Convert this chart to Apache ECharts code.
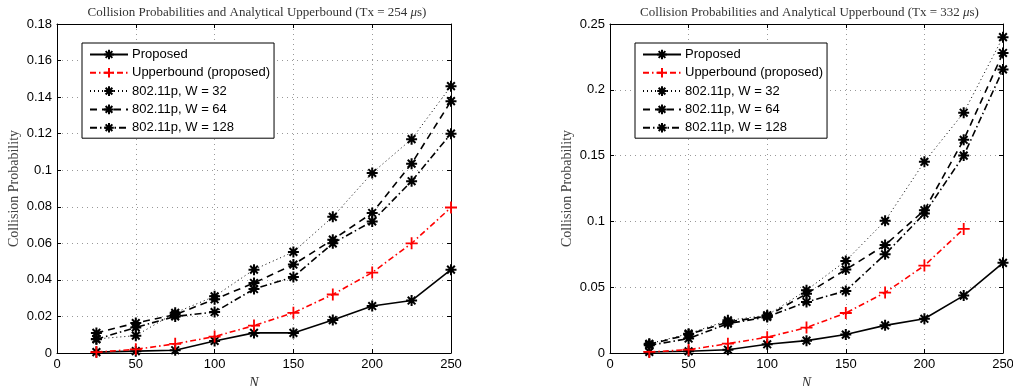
<!DOCTYPE html>
<html>
<head>
<meta charset="utf-8">
<script src="https://cdn.jsdelivr.net/npm/echarts@6/dist/echarts.min.js"></script>
<style>
  html, body { margin: 0; padding: 0; background: #fff; }
  #chart { width: 1013px; height: 386px; }
</style>
</head>
<body>
<div id="chart"></div>
<script>
// N 值
const nValues = [25, 50, 75, 100, 125, 150, 175, 200, 225, 250];

// 左图 Tx = 254 us
const proposedA = [0.0005, 0.001, 0.0015, 0.0066, 0.011, 0.011, 0.018, 0.0257, 0.0287, 0.0456];
const upperA = [0.0005, 0.002, 0.005, 0.009, 0.015, 0.022, 0.032, 0.044, 0.060, 0.0796];
const w32A = [0.0077, 0.0095, 0.022, 0.031, 0.0456, 0.0553, 0.0745, 0.0985, 0.117, 0.146];
const w64A = [0.011, 0.0164, 0.021, 0.0294, 0.0383, 0.0484, 0.062, 0.0766, 0.1036, 0.1378];
const w128A = [0.0075, 0.014, 0.020, 0.0224, 0.035, 0.0416, 0.060, 0.072, 0.094, 0.120];

// 右图 Tx = 332 us
const proposedB = [0.0008, 0.0013, 0.0025, 0.0066, 0.0094, 0.014, 0.021, 0.026, 0.0436, 0.0685];
const upperB = [0.0008, 0.0025, 0.0071, 0.012, 0.0193, 0.0304, 0.0459, 0.0664, 0.0943];
const w32B = [0.007, 0.0147, 0.0248, 0.0287, 0.0477, 0.070, 0.1004, 0.1453, 0.1826, 0.240];
const w64B = [0.0066, 0.014, 0.0236, 0.028, 0.045, 0.0634, 0.082, 0.1085, 0.162, 0.228];
const w128B = [0.0058, 0.011, 0.0223, 0.0274, 0.0388, 0.0472, 0.075, 0.106, 0.150, 0.2155];

const names = ['Proposed', 'Upperbound (proposed)', '802.11p, W = 32', '802.11p, W = 64', '802.11p, W = 128'];
const txValues = [254, 332];

// 星号 / 加号 标记
const starPath = 'path://M0,-10L0,10M-10,0L10,0M-7,-7L7,7M-7,7L7,-7';
const plusPath = 'path://M0,-10L0,10M-10,0L10,0';

const toPairs = (vals) => vals.map((v, i) => [nValues[i], v]);

const styles = [
  { color: '#000', type: 'solid', width: 1.6, symbol: starPath },
  { color: '#ff0000', type: [6, 3, 1.5, 3], width: 1.6, symbol: plusPath },
  { color: '#000', type: [1, 3], width: 1, symbol: starPath },
  { color: '#000', type: [7, 5], width: 1.6, symbol: starPath },
  { color: '#000', type: [7, 3, 1.5, 3], width: 1.6, symbol: starPath }
];

const makeSeries = (dataSets, idx) => dataSets.map((vals, k) => ({
  name: names[k],
  type: 'line',
  xAxisIndex: idx,
  yAxisIndex: idx,
  data: toPairs(vals),
  clip: false,
  symbol: styles[k].symbol,
  symbolSize: k === 1 ? 12 : 11,
  itemStyle: { color: styles[k].color, borderColor: styles[k].color, borderWidth: k === 1 ? 1.8 : 2 },
  lineStyle: { color: styles[k].color, type: styles[k].type, width: styles[k].width },
  emphasis: { disabled: true },
  animation: false
}));

const grids = [
  { left: 57, top: 24, width: 394, height: 329, outerBoundsMode: 'none' },
  { left: 610, top: 24, width: 393, height: 329, outerBoundsMode: 'none' }
];
const yMax = [0.18, 0.25];
const yStep = [0.02, 0.05];

const tickFont = { fontFamily: 'Liberation Sans', fontSize: 13, color: '#000' };
const gridLine = { show: true, lineStyle: { color: '#999', type: [1, 4], width: 1 } };

const xAxes = [];
const yAxes = [];
grids.forEach((g, i) => {
  xAxes.push({
    type: 'value', gridIndex: i, min: 0, max: 250, interval: 50,
    name: 'N', nameLocation: 'middle', nameGap: 22,
    nameTextStyle: { fontFamily: 'Liberation Serif', fontStyle: 'italic', fontSize: 14, color: '#333' },
    axisLine: { show: true, onZero: false, lineStyle: { color: '#000' } },
    axisTick: { inside: true, length: 4, lineStyle: { color: '#000' } },
    axisLabel: { ...tickFont, margin: 5 },
    splitLine: gridLine
  });
  yAxes.push({
    type: 'value', gridIndex: i, min: 0, max: yMax[i], interval: yStep[i],
    name: 'Collision Probability', nameLocation: 'middle', nameGap: 36, nameRotate: 90,
    nameTextStyle: { fontFamily: 'Liberation Serif', fontSize: 14, color: '#444' },
    axisLine: { show: true, onZero: false, lineStyle: { color: '#000' } },
    axisTick: { inside: true, length: 4, lineStyle: { color: '#000' } },
    axisLabel: { ...tickFont, margin: 5 },
    splitLine: gridLine
  });
});
// 顶部和右侧的刻度
grids.forEach((g, i) => {
  xAxes.push({
    type: 'value', gridIndex: i, position: 'top', min: 0, max: 250, interval: 50,
    axisLine: { show: true, onZero: false, lineStyle: { color: '#000' } },
    axisTick: { inside: true, length: 4, lineStyle: { color: '#000' } },
    axisLabel: { show: false }, splitLine: { show: false }
  });
  yAxes.push({
    type: 'value', gridIndex: i, position: 'right', min: 0, max: yMax[i], interval: yStep[i],
    axisLine: { show: true, onZero: false, lineStyle: { color: '#000' } },
    axisTick: { inside: true, length: 4, lineStyle: { color: '#000' } },
    axisLabel: { show: false }, splitLine: { show: false }
  });
});

const chart = echarts.init(document.getElementById('chart'), null, { renderer: 'canvas' });

chart.setOption({
  backgroundColor: '#fff',
  animation: false,
  title: txValues.map((tx, i) => ({
    text: '{n|Collision Probabilities and Analytical Upperbound (Tx = ' + tx + ' }{i|μ}{n|s)}',
    left: grids[i].left + grids[i].width / 2 - 2,
    top: 1,
    textAlign: 'center',
    textStyle: {
      fontWeight: 'normal',
      rich: {
        n: { fontFamily: 'Liberation Serif', fontSize: 13, fontWeight: 'normal', color: '#333' },
        i: { fontFamily: 'Liberation Serif', fontStyle: 'italic', fontSize: 13, fontWeight: 'normal', color: '#333' }
      }
    }
  })),
  legend: grids.map((g, i) => ({
    orient: 'vertical',
    left: g.left + 25,
    top: 43,
    data: names,
    itemWidth: 38,
    itemHeight: 12,
    itemGap: 5.3,
    padding: [5, 4, 4, 7],
    borderColor: '#000',
    borderWidth: 1,
    backgroundColor: '#fff',
    selectedMode: false,
    textStyle: { fontFamily: 'Liberation Sans', fontSize: 13, color: '#000', padding: [0, 0, 0, -1] }
  })),
  grid: grids,
  xAxis: xAxes,
  yAxis: yAxes,
  series: [
    ...makeSeries([proposedA, upperA, w32A, w64A, w128A], 0),
    ...makeSeries([proposedB, upperB, w32B, w64B, w128B], 1)
  ]
});
</script>
</body>
</html>
